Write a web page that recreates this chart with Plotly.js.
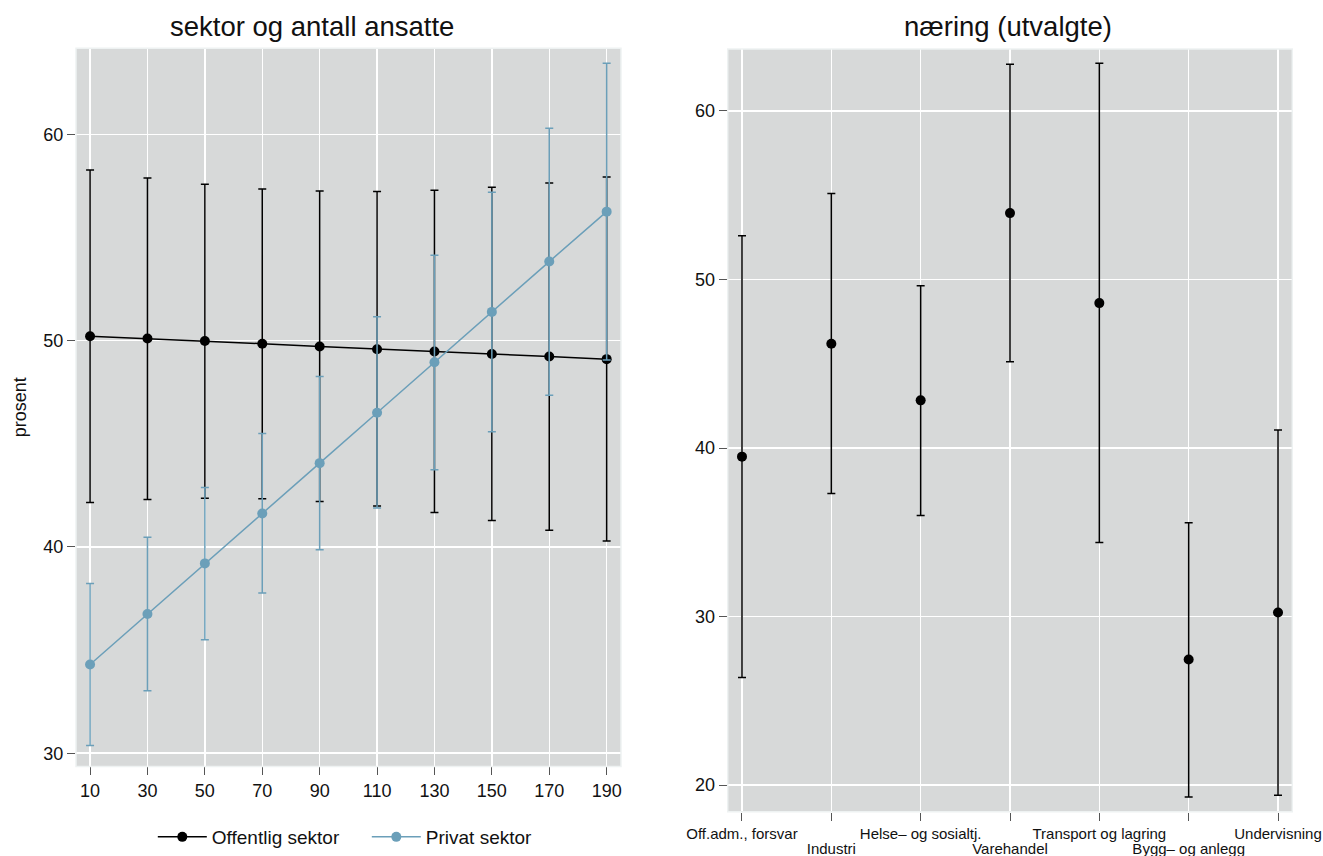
<!DOCTYPE html>
<html>
<head>
<meta charset="utf-8">
<script src="https://cdn.plot.ly/plotly-3.0.1.min.js"></script>
<style>
  html, body { margin: 0; padding: 0; background: #ffffff; }
  #chart { width: 1323px; height: 856px; }
</style>
</head>
<body>
<div id="chart"></div>
<script>
// ---- Left panel: sektor og antall ansatte ----
const employees = [10, 30, 50, 70, 90, 110, 130, 150, 170, 190];

const offentligMean  = [50.21, 50.10, 49.98, 49.85, 49.71, 49.58, 49.47, 49.35, 49.23, 49.10];
const offentligUpper = [58.27, 57.88, 57.58, 57.35, 57.25, 57.22, 57.29, 57.43, 57.64, 57.93];
const offentligLower = [42.15, 42.30, 42.36, 42.33, 42.20, 41.98, 41.67, 41.28, 40.81, 40.28];

const privatMean  = [34.30, 36.75, 39.20, 41.62, 44.06, 46.50, 48.95, 51.39, 53.83, 56.25];
const privatUpper = [38.23, 40.47, 42.88, 45.49, 48.26, 51.15, 54.14, 57.19, 60.29, 63.44];
const privatLower = [30.37, 33.03, 35.50, 37.76, 39.86, 41.88, 43.74, 45.58, 47.35, 49.06];

const leftTicksX = [10, 30, 50, 70, 90, 110, 130, 150, 170, 190];
const leftTicksY = [30, 40, 50, 60];

// ---- Right panel: næring (utvalgte) ----
const industries = ["Off.adm., forsvar", "Industri", "Helse\u2013 og sosialtj.", "Varehandel",
                    "Transport og lagring", "Bygg\u2013 og anlegg", "Undervisning"];
const industryMean  = [39.49, 46.19, 42.83, 53.94, 48.60, 27.45, 30.24];
const industryUpper = [52.59, 55.10, 49.63, 62.77, 62.83, 35.56, 41.07];
const industryLower = [26.39, 37.30, 36.00, 45.12, 34.40, 19.30, 19.40];
const rightTicksY = [20, 30, 40, 50, 60];

const seriesNames = ["Offentlig sektor", "Privat sektor"];
const titles = ["sektor og antall ansatte", "n\u00e6ring (utvalgte)"];
const yTitle = "prosent";

const BLACK = "#000000";
const BLUE = "#6b9fb9";
const BG = "#d7d9d9";
const FONT = "Liberation Sans, Arial, Helvetica, sans-serif";

function diff(a, b) { return a.map((v, i) => v - b[i]); }

const traces = [
  {
    x: employees, y: offentligMean, name: seriesNames[0],
    type: "scatter", mode: "lines+markers",
    xaxis: "x", yaxis: "y",
    line: { color: BLACK, width: 1.5 },
    marker: { color: BLACK, size: 10 },
    error_y: { type: "data", symmetric: false,
               array: diff(offentligUpper, offentligMean),
               arrayminus: diff(offentligMean, offentligLower),
               color: BLACK, thickness: 1.5, width: 4 }
  },
  {
    x: employees, y: privatMean, name: seriesNames[1],
    type: "scatter", mode: "lines+markers",
    xaxis: "x", yaxis: "y",
    line: { color: BLUE, width: 1.5 },
    marker: { color: BLUE, size: 10 },
    error_y: { type: "data", symmetric: false,
               array: diff(privatUpper, privatMean),
               arrayminus: diff(privatMean, privatLower),
               color: BLUE, thickness: 1.5, width: 4 }
  },
  {
    x: industries, y: industryMean, name: "næring",
    type: "scatter", mode: "markers", showlegend: false,
    xaxis: "x2", yaxis: "y2",
    marker: { color: BLACK, size: 10 },
    error_y: { type: "data", symmetric: false,
               array: diff(industryUpper, industryMean),
               arrayminus: diff(industryMean, industryLower),
               color: BLACK, thickness: 1.5, width: 4 }
  },
  // empty helper trace so the second (staggered) label row axis is drawn
  {
    x: [], y: [], type: "scatter", mode: "markers", showlegend: false,
    xaxis: "x3", yaxis: "y2", hoverinfo: "skip"
  }
];

const axisCommon = {
  showgrid: true, gridcolor: "#ffffff", gridwidth: 1.5,
  zeroline: false, showline: false,
  ticks: "outside", ticklen: 8, tickcolor: "#555555", tickwidth: 1,
  tickfont: { family: FONT, size: 18, color: "#111111" }
};

const catIdx = industries.map((c, i) => i);
const oddIdx = catIdx.filter(i => i % 2 === 1);

const layout = {
  width: 1323, height: 856,
  margin: { l: 0, r: 0, t: 0, b: 0 },
  paper_bgcolor: "#ffffff",
  plot_bgcolor: BG,
  font: { family: FONT, color: "#111111" },
  showlegend: true,
  legend: {
    orientation: "h", x: 0.1155, xanchor: "left", y: 0.021, yanchor: "middle",
    font: { family: FONT, size: 19, color: "#111111" },
    bgcolor: "rgba(0,0,0,0)", entrywidth: 150, entrywidthmode: "pixels",
    itemwidth: 49
  },
  xaxis: Object.assign({}, axisCommon, {
    domain: [76/1323, 621/1323], anchor: "y",
    range: [5.1, 195], tickmode: "array", tickvals: leftTicksX,
    ticktext: leftTicksX.map(String)
  }),
  yaxis: Object.assign({}, axisCommon, {
    domain: [1 - 767.3/856, 1 - 48.3/856], anchor: "x",
    range: [29.36, 64.17], tickmode: "array", tickvals: leftTicksY,
    ticktext: leftTicksY.map(String),
    title: { text: yTitle, font: { family: FONT, size: 18, color: "#111111" }, standoff: 12 }
  }),
  xaxis2: Object.assign({}, axisCommon, {
    domain: [727.7/1323, 1292.3/1323], anchor: "y2",
    type: "category", range: [-0.16, 6.16],
    tickmode: "array", tickvals: industries,
    ticktext: industries.map((c, i) => (i % 2 === 0 ? c : "")),
    tickfont: { family: FONT, size: 15, color: "#111111" },
    tickangle: 0
  }),
  xaxis3: {
    domain: [727.7/1323, 1292.3/1323], anchor: "y2", overlaying: "x2",
    type: "linear", range: [-0.16, 6.16],
    showgrid: false, zeroline: false, showline: false, ticks: "",
    tickmode: "array", tickvals: oddIdx,
    ticktext: oddIdx.map(i => industries[i]),
    tickfont: { family: FONT, size: 15, color: "#111111" },
    tickangle: 0, ticklabelstandoff: 26
  },
  yaxis2: Object.assign({}, axisCommon, {
    domain: [1 - 812.7/856, 1 - 49/856], anchor: "x2",
    range: [18.42, 63.68], tickmode: "array", tickvals: rightTicksY,
    ticktext: rightTicksY.map(String)
  }),
  shapes: [
    { type: "rect", xref: "x domain", yref: "y domain", x0: 0, x1: 1, y0: 0, y1: 1,
      line: { color: "#eef2f2", width: 1.5 }, fillcolor: "rgba(0,0,0,0)", layer: "above" },
    { type: "rect", xref: "x2 domain", yref: "y2 domain", x0: 0, x1: 1, y0: 0, y1: 1,
      line: { color: "#eef2f2", width: 1.5 }, fillcolor: "rgba(0,0,0,0)", layer: "above" }
  ],
  annotations: [
    { text: titles[0], xref: "paper", yref: "paper", x: 312/1323, y: 1 - 27/856,
      xanchor: "center", yanchor: "middle", showarrow: false,
      font: { family: FONT, size: 27.5, color: "#111111" } },
    { text: titles[1], xref: "paper", yref: "paper", x: 1008/1323, y: 1 - 27/856,
      xanchor: "center", yanchor: "middle", showarrow: false,
      font: { family: FONT, size: 27.5, color: "#111111" } }
  ]
};

Plotly.newPlot("chart", traces, layout, { staticPlot: true, displayModeBar: false });
</script>
</body>
</html>
